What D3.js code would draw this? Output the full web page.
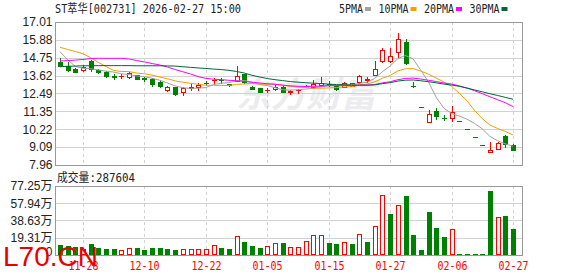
<!DOCTYPE html>
<html><head><meta charset="utf-8">
<script src="https://cdn.jsdelivr.net/npm/d3@7"></script>
<style>html,body{margin:0;padding:0;background:#fff;overflow:hidden}</style>
</head><body>
<svg id="c" width="578" height="276"></svg>
<script>
const dates = ["2025-11-25","2025-11-26","2025-11-27","2025-11-28","2025-12-01","2025-12-02","2025-12-03","2025-12-04","2025-12-05","2025-12-08",
"2025-12-09","2025-12-10","2025-12-11","2025-12-12","2025-12-15","2025-12-16","2025-12-17","2025-12-18","2025-12-19","2025-12-22",
"2025-12-23","2025-12-24","2025-12-25","2025-12-26","2025-12-29","2025-12-30","2025-12-31","2026-01-05","2026-01-06","2026-01-07",
"2026-01-08","2026-01-09","2026-01-12","2026-01-13","2026-01-14","2026-01-15","2026-01-16","2026-01-19","2026-01-20","2026-01-21",
"2026-01-22","2026-01-23","2026-01-26","2026-01-27","2026-01-28","2026-01-29","2026-01-30","2026-02-02","2026-02-03","2026-02-04",
"2026-02-05","2026-02-06","2026-02-09","2026-02-10","2026-02-11","2026-02-12","2026-02-24","2026-02-25","2026-02-26","2026-02-27"];
const opens = [14.45,14.22,14.02,14.00,14.54,13.97,13.86,13.58,13.58,13.55,
13.64,13.44,13.42,13.19,12.71,12.88,12.60,12.86,12.92,13.18,
13.32,13.36,13.06,13.30,13.72,12.88,12.82,12.68,12.79,12.92,
12.58,12.71,12.93,12.90,13.02,13.10,13.02,12.92,12.96,13.19,
13.36,13.66,14.56,14.56,15.09,15.76,12.97,11.60,10.70,11.40,
10.95,10.91,10.76,10.22,9.71,9.23,8.77,8.96,9.79,9.20];
const highs = [14.71,14.50,14.08,14.30,14.60,14.04,13.93,13.72,13.72,13.85,
13.66,13.55,13.48,13.32,12.96,12.92,12.88,13.09,13.13,13.29,
13.48,13.48,13.10,14.22,13.75,12.95,12.86,12.83,13.02,12.96,
12.71,12.75,13.00,13.34,13.51,13.29,13.05,13.20,13.16,13.66,
13.53,14.56,15.35,15.38,16.33,15.91,13.23,11.60,11.44,11.55,
11.12,11.71,10.76,10.22,9.71,9.23,9.42,9.42,9.84,9.29];
const lows = [14.22,13.93,13.83,13.90,13.93,13.78,13.55,13.38,13.45,13.45,
13.40,13.28,12.98,12.88,12.66,12.42,12.39,12.71,12.71,13.02,
13.17,13.17,12.98,13.28,13.17,12.75,12.58,12.58,12.71,12.56,
12.43,12.52,12.88,12.85,12.98,12.96,12.73,12.90,12.94,13.17,
13.23,13.64,14.50,14.50,14.78,14.38,12.92,11.60,10.70,10.87,
10.81,10.74,10.76,10.22,9.71,9.23,8.77,8.95,9.10,8.90];
const closes = [14.24,13.97,13.87,14.15,14.04,13.85,13.61,13.55,13.62,13.76,
13.42,13.40,13.07,12.96,12.92,12.45,12.83,12.90,13.00,13.14,
13.36,13.32,13.04,13.59,13.23,12.78,12.60,12.71,12.92,12.60,
12.66,12.73,12.95,13.07,13.17,13.02,12.77,13.13,13.12,13.59,
13.39,14.02,15.24,14.86,15.93,14.40,12.96,11.60,11.19,11.08,
10.92,11.33,10.76,10.22,9.71,9.23,8.91,9.37,9.26,8.93];
// volume, in 万 (10,000 shares)
const volumes = [11.2,10.0,9.3,7.0,12.3,7.8,6.7,6.7,5.3,7.5,
7.8,5.6,7.8,7.8,6.7,5.6,6.3,6.3,6.3,6.3,
10.8,7.8,6.7,21.3,14.5,10.0,7.8,10.0,13.4,13.4,
8.6,8.6,15.3,22.0,22.0,13.4,12.3,14.2,12.3,23.2,
14.5,32.0,66.8,45.9,55.6,66.0,22.4,5.6,48.0,30.2,
20.1,28.8,0.9,0.9,0.9,0.9,71.6,42.2,43.6,28.7604];
const ma5 = [15.13,14.62,14.20,14.08,14.05,13.98,13.90,13.84,13.73,13.68,
13.59,13.55,13.45,13.32,13.15,12.96,12.85,12.81,12.82,12.86,
13.05,13.14,13.17,13.29,13.31,13.20,13.05,12.99,12.85,12.72,
12.70,12.72,12.77,12.80,12.92,12.99,13.00,13.03,13.04,13.13,
13.20,13.45,13.87,14.22,14.69,14.89,14.67,13.95,13.21,12.24,
11.55,11.22,11.06,10.86,10.59,10.25,9.77,9.49,9.30,9.14];
const ma10 = [15.41,15.27,15.14,15.00,14.75,14.45,14.19,13.94,13.88,13.87,
13.78,13.73,13.65,13.53,13.42,13.28,13.20,13.13,13.07,13.01,
13.00,13.00,12.99,13.06,13.09,13.12,13.09,13.07,13.07,13.01,
12.94,12.88,12.87,12.82,12.82,12.84,12.86,12.90,12.92,13.02,
13.09,13.22,13.45,13.63,13.91,14.05,14.06,13.90,13.71,13.46,
13.21,12.94,12.50,12.03,11.41,10.89,10.49,10.27,10.08,9.86];
const ma20 = [14.54,14.57,14.60,14.64,14.70,14.71,14.71,14.71,14.71,14.67,
14.57,14.48,14.38,14.29,14.16,14.00,13.86,13.72,13.55,13.44,
13.39,13.36,13.32,13.29,13.25,13.20,13.15,13.10,13.07,13.01,
12.97,12.94,12.93,12.94,12.95,12.98,12.98,12.99,12.99,13.02,
13.02,13.05,13.16,13.23,13.36,13.44,13.46,13.40,13.32,13.24,
13.15,13.08,12.97,12.83,12.66,12.47,12.28,12.09,11.90,11.66];
const ma30 = [14.18,14.21,14.22,14.24,14.24,14.25,14.25,14.25,14.25,14.25,
14.24,14.24,14.24,14.24,14.23,14.22,14.18,14.14,14.10,14.07,
14.03,14.00,13.95,13.88,13.78,13.64,13.53,13.43,13.36,13.30,
13.24,13.20,13.17,13.14,13.11,13.08,13.05,13.04,13.02,13.01,
13.01,13.03,13.11,13.17,13.27,13.33,13.34,13.29,13.23,13.16,
13.08,13.02,12.94,12.83,12.71,12.59,12.47,12.36,12.24,12.12];
const priceTicks = [17.01,15.88,14.75,13.62,12.49,11.35,10.22,9.09,7.96];
const volTicks = [0,19.31,38.63,57.94,77.25];
const xTickDates = ["2025-11-28","2025-12-10","2025-12-22","2026-01-05","2026-01-15","2026-01-27","2026-02-06","2026-02-27"];
const titleText = "ST萃华[002731] 2026-02-27 15:00";
const volTitle = "成交量:287604";
const maNames = ["5PMA","10PMA","20PMA","30PMA"];
const maColors = ["#a0a0a0","#f0a000","#ff00ff","#00663a"];

const RED = "#ff0000", GREEN = "#008000";
const GRID = "#d2d2d2", FRAME = "#999999";
const MONO = "'DejaVu Sans Mono','Noto Sans CJK SC',monospace";
const SANS = "'Liberation Sans',Arial,'Noto Sans CJK SC',sans-serif";

const svg = d3.select("#c");
const L = 55.5, R = 522.5;
const x = d3.scalePoint().domain(dates).range([60, 513]);
const y = d3.scaleLinear().domain([7.96, 17.01]).range([165, 22]);
const yv = d3.scaleLinear().domain([0, 77.25]).range([255, 186]);

function cw(s){let w=0;for(const ch of s)w+=ch.charCodeAt(0)>255?12:6;return w;}
function mono(parent,s,px,py,fill,anchor){
  const t=parent.append("text").attr("x",px).attr("y",py).text(s)
    .attr("font-family",MONO).attr("font-size",12).attr("fill",fill)
    .attr("textLength",cw(s)).attr("lengthAdjust","spacingAndGlyphs");
  if(anchor) t.attr("text-anchor",anchor);
  return t;
}

// watermark 东方财富
svg.append("text").attr("x",236).attr("y",107).text("东方财富")
  .attr("font-family","'Noto Sans CJK SC',sans-serif").attr("font-weight","bold")
  .attr("font-size",35).attr("fill","#ececee").attr("font-style","italic");

// price grid
const grid = svg.append("g");
priceTicks.forEach(t=>{
  const yy=Math.round(y(t))+0.5;
  grid.append("line").attr("x1",L).attr("x2",R).attr("y1",yy).attr("y2",yy).attr("stroke",GRID);
});
volTicks.forEach(t=>{
  const yy=Math.round(yv(t))+0.5;
  grid.append("line").attr("x1",L).attr("x2",R).attr("y1",yy).attr("y2",yy).attr("stroke",GRID);
});
xTickDates.forEach(d=>{
  const xx=Math.round(x(d))+0.5;
  grid.append("line").attr("x1",xx).attr("x2",xx).attr("y1",y(17.01)).attr("y2",y(7.96))
    .attr("stroke",GRID).attr("stroke-dasharray","3,3");
  grid.append("line").attr("x1",xx).attr("x2",xx).attr("y1",yv(77.25)).attr("y2",yv(0))
    .attr("stroke",GRID).attr("stroke-dasharray","3,3");
  mono(svg,d.slice(5),xx,270,RED,"middle");
});

// candles
const cg = svg.append("g");
dates.forEach((d,i)=>{
  const o=opens[i],c=closes[i],h=highs[i],l=lows[i];
  const prev=i>0?closes[i-1]:o;
  const up = c>o || (c===o && c>=prev);
  const col = up?RED:GREEN;
  const cx=Math.round(x(d));
  const yh=Math.round(y(h)), yl=Math.round(y(l));
  const yt=Math.round(y(Math.max(o,c))), yb=Math.round(y(Math.min(o,c)));
  if(yl-yh>0) cg.append("line").attr("x1",cx+0.5).attr("x2",cx+0.5).attr("y1",yh).attr("y2",yl+1).attr("stroke",col);
  if(yb-yt<1){
    cg.append("rect").attr("x",cx-2).attr("y",yt).attr("width",5).attr("height",1).attr("fill",col);
  } else if(up){
    cg.append("rect").attr("x",cx-1.5).attr("y",yt+0.5).attr("width",4).attr("height",yb-yt)
      .attr("fill","#fff").attr("stroke",col);
  } else {
    cg.append("rect").attr("x",cx-2).attr("y",yt).attr("width",5).attr("height",yb-yt+1).attr("fill",col);
  }
});

// moving averages
const line = d3.line().x((v,i)=>x(dates[i])).y(v=>y(v));
[ma5,ma10,ma20,ma30].forEach((arr,k)=>{
  svg.append("path").attr("d",line(arr)).attr("fill","none").attr("stroke",maColors[k]).attr("stroke-width",1);
});

// volume bars
const vg = svg.append("g");
dates.forEach((d,i)=>{
  const vup = i>0 ? closes[i]>=closes[i-1] : closes[i]>=opens[i];
  const cx=Math.round(x(d));
  let yt=Math.round(yv(volumes[i]));
  if(yt>254) yt=254;
  if(vup){
    vg.append("rect").attr("x",cx-1.5).attr("y",yt+0.5).attr("width",4).attr("height",Math.max(1,254-yt))
      .attr("fill","#fff").attr("stroke",RED);
  } else {
    vg.append("rect").attr("x",cx-2).attr("y",yt).attr("width",5).attr("height",255-yt).attr("fill",GREEN);
  }
});

// frames
svg.append("rect").attr("x",L).attr("y",y(17.01)+0.5).attr("width",R-L).attr("height",y(7.96)-y(17.01))
  .attr("fill","none").attr("stroke",FRAME);
svg.append("rect").attr("x",L).attr("y",Math.round(yv(77.25))+0.5).attr("width",R-L).attr("height",Math.round(yv(0))-Math.round(yv(77.25)))
  .attr("fill","none").attr("stroke",FRAME);

// axis labels
priceTicks.forEach(t=>{
  svg.append("text").attr("x",52.5).attr("y",y(t)).attr("dy","0.36em").attr("text-anchor","end")
    .attr("font-family",SANS).attr("font-size",12).attr("fill","#222").text(t.toFixed(2));
});
volTicks.forEach(t=>{
  svg.append("text").attr("x",52.5).attr("y",t===0?yv(t)-3:yv(t)).attr("dy","0.36em").attr("text-anchor","end")
    .attr("font-family",SANS).attr("font-size",12).attr("fill","#222").text(t===0?"0":t.toFixed(2)+"万");
});

// header and legend
mono(svg,titleText,55,12.5,"#222");
let lx=339;
maNames.forEach((n,k)=>{
  mono(svg,n,lx,12.5,"#222");
  lx+=cw(n)+2;
  svg.append("rect").attr("x",lx).attr("y",7).attr("width",6).attr("height",4).attr("fill",maColors[k]);
  lx+=6+7.5;
});
mono(svg,volTitle,57,181.5,"#222");

// L70.CN watermark
svg.append("text").attr("x",3).attr("y",266).text("L70.CN")
  .attr("font-family",SANS).attr("font-size",28).attr("fill","#e80000");
</script>
</body></html>
